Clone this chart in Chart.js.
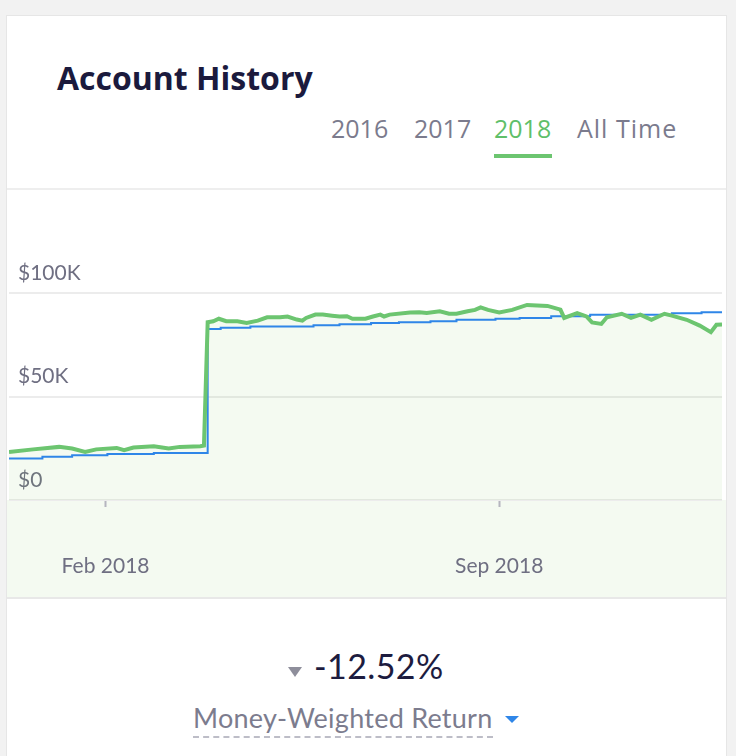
<!DOCTYPE html>
<html>
<head>
<meta charset="utf-8">
<script src="https://cdn.jsdelivr.net/npm/chart.js@4.4.1/dist/chart.umd.min.js"></script>
<style>
  html, body { margin: 0; padding: 0; }
  body { width: 736px; height: 756px; background: #f2f2f2; position: relative; overflow: hidden; font-family: Lato, "Open Sans", sans-serif; }
  .card { position: absolute; left: 6px; top: 15px; width: 721px; height: 760px; background: #fff; border: 1px solid #e6e6e6; box-sizing: border-box; }
  .title { position: absolute; left: 57px; top: 62px; font-family: "Open Sans", sans-serif; font-size: 32px; line-height: 32px; font-weight: 700; color: #1b1a3d; white-space: nowrap; }
  .tab { position: absolute; top: 116px; font-family: "Open Sans", sans-serif; font-size: 25px; line-height: 25px; color: #7b7b8d; white-space: nowrap; }
  .tab.on { color: #5fbf69; }
  .tab-line { position: absolute; left: 494px; top: 154px; width: 58px; height: 4px; background: #6cc570; }
  .chart-box { position: absolute; left: 7px; top: 188px; width: 719px; height: 407px; border-top: 2px solid #eeeeee; border-bottom: 2px solid #e8e8e8; }
  .down { position: absolute; left: 288px; top: 667px; width: 0; height: 0; border-left: 7px solid transparent; border-right: 7px solid transparent; border-top: 10px solid #8e8e9b; }
  .pct { position: absolute; left: 314px; top: 649px; font-size: 34px; line-height: 34px; letter-spacing: 0.4px; color: #1d1c3f; }
  .mwr { position: absolute; left: 193px; top: 704px; font-size: 27px; line-height: 27px; letter-spacing: 0.25px; color: #7c7c8e; white-space: nowrap; }
  .dash { position: absolute; left: 193px; top: 736px; width: 300px; border-top: 2px dashed #bdbdc7; }
  .blue-tri { position: absolute; left: 505px; top: 716px; width: 0; height: 0; border-left: 7px solid transparent; border-right: 7px solid transparent; border-top: 7px solid #2f86e8; }
</style>
</head>
<body>
<div class="card"></div>
<div class="title">Account History</div>
<div class="tab" style="left:331px">2016</div>
<div class="tab" style="left:414px">2017</div>
<div class="tab on" style="left:494px">2018</div>
<div class="tab" style="left:577px; letter-spacing:1px">All Time</div>
<div class="tab-line"></div>
<div class="chart-box"><canvas id="chart"></canvas></div>
<div class="down"></div>
<div class="pct">-12.52%</div>
<div class="mwr">Money-Weighted Return</div>
<div class="dash"></div>
<div class="blue-tri"></div>

<script>
// account value (green line)
var valueDates = ['2017-12-11','2017-12-24','2018-01-07','2018-01-14','2018-01-21','2018-01-27',
  '2018-02-07','2018-02-11','2018-02-16','2018-02-27','2018-03-07','2018-03-13','2018-03-24',
  '2018-03-26','2018-03-28','2018-03-31','2018-04-03','2018-04-07','2018-04-13','2018-04-18',
  '2018-04-24','2018-04-29','2018-05-06','2018-05-10','2018-05-15','2018-05-18','2018-05-20',
  '2018-05-25','2018-05-29','2018-06-03','2018-06-07','2018-06-11','2018-06-14','2018-06-21',
  '2018-06-25','2018-06-29','2018-07-01','2018-07-04','2018-07-15','2018-07-20','2018-07-24',
  '2018-07-31','2018-08-05','2018-08-09','2018-08-15','2018-08-19','2018-08-22','2018-08-26',
  '2018-09-01','2018-09-08','2018-09-16','2018-09-27','2018-10-04','2018-10-06','2018-10-13',
  '2018-10-18','2018-10-21','2018-10-26','2018-10-29','2018-11-06','2018-11-11','2018-11-16',
  '2018-11-22','2018-11-29','2018-12-03','2018-12-11','2018-12-18','2018-12-24','2018-12-27',
  '2018-12-30'];
var accountValues = [23200,24500,25700,24900,23300,24500,
  25200,24100,25400,26000,24900,25700,26000,
  26300,86000,86500,87700,86500,86500,85700,
  86800,88400,88400,88800,87300,86800,88100,
  89700,89700,89200,88800,88900,87700,87700,
  88800,89700,88800,89700,90700,90800,90500,
  91300,90100,90100,91300,92000,93200,92000,
  90800,92000,94400,93900,92100,88100,90400,
  88800,85900,85200,88400,90100,88100,89700,
  87200,90100,89200,87200,84400,81200,84800,
  84900];

// net deposits (blue step line), each value starts on its date
var depositDates = ['2017-12-11','2017-12-29','2018-01-14','2018-02-02','2018-02-27','2018-03-28',
  '2018-04-04','2018-04-20','2018-05-24','2018-06-07','2018-06-24','2018-07-09','2018-07-26',
  '2018-08-09','2018-08-30','2018-09-12','2018-09-29','2018-10-20','2018-12-03','2018-12-19',
  '2018-12-30'];
var depositValues = [20100,20900,21600,22200,22800,82800,
  83300,83900,84600,85100,85700,86000,86500,
  87200,87700,88100,88900,89600,90400,90800,
  90800];

var xStart = '2017-12-11';
var xEnd = '2018-12-30';
var xTickDates = ['2018-02-01', '2018-09-01'];
var xTickLabels = ['Feb 2018', 'Sep 2018'];
var yTickValues = [0, 50000, 100000];
var yTickLabels = ['$0', '$50K', '$100K'];

function t(d) { return Date.parse(d); }
function pts(dates, vals) {
  return dates.map(function (d, i) { return { x: t(d), y: vals[i] }; });
}

var fillColor = 'rgba(118,190,80,0.08)';

// paints the strip under the plot (x axis area) in the same tint as the fill
var underPlot = {
  id: 'underPlot',
  beforeDraw: function (chart) {
    var c = chart.ctx, a = chart.chartArea;
    c.save();
    c.fillStyle = fillColor;
    c.fillRect(0, a.bottom, chart.width, chart.height - a.bottom);
    c.restore();
  }
};

var ctx = document.getElementById('chart');
var myChart = new Chart(ctx, {
  type: 'line',
  data: {
    datasets: [
      {
        label: 'Account value',
        data: pts(valueDates, accountValues),
        borderColor: '#6cc570',
        borderWidth: 4,
        backgroundColor: fillColor,
        fill: 'start',
        pointRadius: 0,
        tension: 0
      },
      {
        label: 'Net deposits',
        data: pts(depositDates, depositValues),
        borderColor: '#2f86e8',
        borderWidth: 2,
        fill: false,
        stepped: true,
        pointRadius: 0
      }
    ]
  },
  options: {
    responsive: true,
    maintainAspectRatio: false,
    animation: false,
    layout: { padding: { left: 2, right: 4, top: 0, bottom: 20 } },
    plugins: {
      legend: { display: false },
      tooltip: { enabled: false },
      filler: { drawTime: 'beforeDatasetsDraw' }
    },
    scales: {
      x: {
        type: 'linear',
        min: t(xStart),
        max: t(xEnd),
        afterBuildTicks: function (s) {
          s.ticks = xTickDates.map(function (d) { return { value: t(d) }; });
        },
        afterFit: function (s) { s.height = 77; },
        ticks: {
          autoSkip: false,
          maxRotation: 0,
          padding: 47,
          color: '#6f6f82',
          font: { family: 'Lato', size: 21 },
          callback: function (v, i) { return xTickLabels[i]; }
        },
        grid: { drawOnChartArea: false, drawTicks: true, tickLength: 7, tickColor: '#b5b5bf', tickWidth: 2 },
        border: { display: false }
      },
      y: {
        min: 0,
        max: 150000,
        afterBuildTicks: function (s) {
          s.ticks = yTickValues.map(function (v) { return { value: v }; });
        },
        afterFit: function (s) {
          s.width = 0;
          s.paddingTop = 0;
          s.paddingBottom = 0;
        },
        ticks: {
          mirror: true,
          padding: 9,
          labelOffset: -20,
          color: '#6f6f82',
          font: { family: 'Lato', size: 21 },
          callback: function (v, i) { return yTickLabels[i]; }
        },
        grid: { color: '#ececec', lineWidth: 2, drawTicks: false },
        border: { display: false }
      }
    }
  },
  plugins: [underPlot]
});
</script>
</body>
</html>
